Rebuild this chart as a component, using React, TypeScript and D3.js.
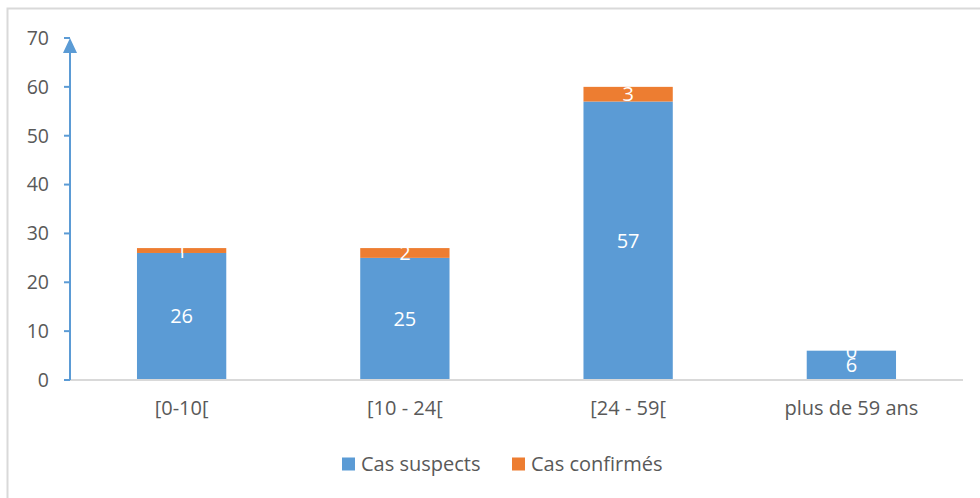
import * as d3 from "d3";
import React from "react";

const categories = ["[0-10[", "[10 - 24[", "[24 - 59[", "plus de 59 ans"];
const suspects = [26, 25, 57, 6];
const confirmes = [1, 2, 3, 0];
const yTicks = [0, 10, 20, 30, 40, 50, 60, 70];
const seriesNames = ["Cas suspects", "Cas confirmés"];
const colors = ["#5b9bd5", "#ed7d31"];

const App = () => {
  const width = 980;
  const height = 498;
  const margins = { top: 38, right: 17, bottom: 118, left: 70 };
  const innerWidth = width - margins.left - margins.right;
  const innerHeight = height - margins.top - margins.bottom;
  const font = "'Open Sans', Lato, sans-serif";

  const x = d3.scaleBand().domain(categories).range([0, innerWidth]).paddingInner(0.6).paddingOuter(0.3);
  const y = d3.scaleLinear().domain([0, 70]).range([innerHeight, 0]);

  const rows = categories.map((c, i) => ({ cat: c, s: suspects[i], c: confirmes[i] }));

  return (
    <svg
      width={width}
      height={height}
      style={{ position: "absolute", left: 0, top: 0, background: "#fff" }}
    >
      <rect x={7.5} y={8.5} width={980} height={500} fill="#fff" stroke="#d9d9d9" strokeWidth={2} />
      <g transform={`translate(${margins.left},${margins.top})`}>
        {rows.map((r) => (
          <g key={r.cat}>
            <rect x={x(r.cat)} y={y(r.s)} width={x.bandwidth()} height={y(0) - y(r.s)} fill={colors[0]} />
            <rect x={x(r.cat)} y={y(r.s + r.c)} width={x.bandwidth()} height={y(r.s) - y(r.s + r.c)} fill={colors[1]} />
          </g>
        ))}
        <line x1={-6} x2={innerWidth} y1={innerHeight} y2={innerHeight} stroke="#d9d9d9" strokeWidth={2} />
        <line x1={0} x2={0} y1={innerHeight} y2={8} stroke="#5b9bd5" strokeWidth={2} />
        <path d={`M-7,${15} L7,${15} L0,0 Z`} fill="#5b9bd5" />
        {yTicks.map((t) => (
          <g key={t} transform={`translate(0,${y(t)})`}>
            <line x1={-6} x2={0} stroke="#5b9bd5" strokeWidth={2} />
            <text x={-21} dy="0.35em" textAnchor="end" fontFamily={font} fontSize={19.5} fill="#595959">
              {t}
            </text>
          </g>
        ))}
        {rows.map((r) => (
          <g key={r.cat + "l"} fontFamily={font} fontSize={20} fill="#fff" textAnchor="middle">
            <text x={x(r.cat)! + x.bandwidth() / 2} y={(y(0) + y(r.s)) / 2} dy="0.35em">
              {r.s}
            </text>
            <text x={x(r.cat)! + x.bandwidth() / 2} y={(y(r.s) + y(r.s + r.c)) / 2} dy="0.35em">
              {r.c}
            </text>
            <text
              x={x(r.cat)! + x.bandwidth() / 2}
              y={innerHeight + 35}
              fill="#595959"
              fontSize={20}
            >
              {r.cat}
            </text>
          </g>
        ))}
      </g>
      <g fontFamily={font} fontSize={20} fill="#595959">
        {seriesNames.map((n, i) => (
          <g key={n} transform={`translate(${i === 0 ? 342 : 512},464)`}>
            <rect x={0} y={-6.5} width={13} height={13} fill={colors[i]} />
            <text x={19} dy="0.35em">
              {n}
            </text>
          </g>
        ))}
      </g>
    </svg>
  );
};

export default App;
